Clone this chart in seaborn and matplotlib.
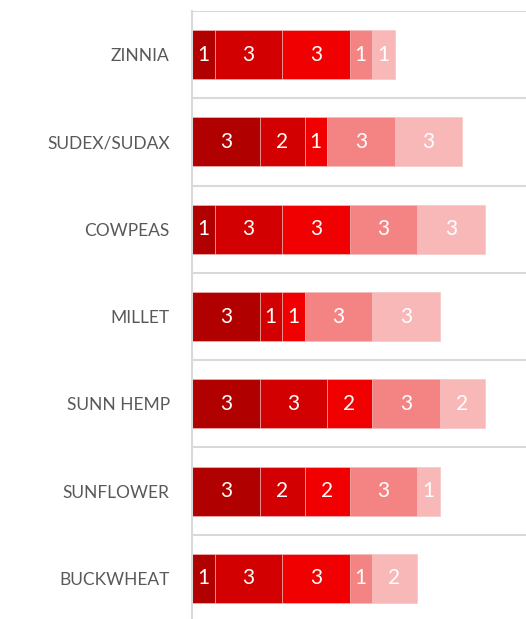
import matplotlib
matplotlib.use("Agg")
import matplotlib.pyplot as plt
import seaborn as sns
import pandas as pd
import numpy as np

categories = ["ZINNIA", "SUDEX/SUDAX", "COWPEAS", "MILLET", "SUNN HEMP", "SUNFLOWER", "BUCKWHEAT"]
seg1 = [1, 3, 1, 3, 3, 3, 1]
seg2 = [3, 2, 3, 1, 3, 2, 3]
seg3 = [3, 1, 3, 1, 2, 2, 3]
seg4 = [1, 3, 3, 3, 3, 3, 1]
seg5 = [1, 3, 3, 3, 2, 1, 2]
segments = [seg1, seg2, seg3, seg4, seg5]
colors = ["#B00000", "#D20000", "#F00000", "#F48484", "#F8B8B8"]

sns.set_theme(style="white")
plt.rcParams["font.family"] = ["Lato", "DejaVu Sans"]

fig = plt.figure(figsize=(5.26, 6.19), dpi=100)
ax = fig.add_axes([192 / 526, -3 / 619, 1 - 192 / 526, (619 - 11 + 3) / 619])

vals = np.array(segments)  # shape (5, 7)
cum = np.cumsum(vals, axis=0)

# draw cumulative totals from largest to smallest so segments stack
for k in range(len(segments) - 1, -1, -1):
    df = pd.DataFrame({"cat": categories, "val": cum[k]})
    sns.barplot(data=df, x="val", y="cat", orient="h", color=colors[k],
                saturation=1, width=0.56, edgecolor="#f4c8c8", linewidth=0.5,
                ax=ax)

for k in range(len(segments)):
    for i in range(len(categories)):
        left = cum[k][i] - vals[k][i]
        ax.text(left + vals[k][i] / 2, i, str(vals[k][i]), ha="center", va="center",
                color="white", fontsize=15)

ax.set_xlim(0, 334 / 22.5)
ax.set_ylim(6.5, -0.5)
ax.set_xlabel("")
ax.set_ylabel("")
ax.set_xticks([])
ax.set_yticks(range(len(categories)))
ax.set_yticklabels(categories, color="#595959", fontsize=12.5)
ax.tick_params(axis="y", length=0, pad=16)

for b in np.arange(-0.5, 7.0, 1.0):
    ax.axhline(b, color="#D9D9D9", lw=1.5, zorder=0)

for s in ["top", "right", "bottom"]:
    ax.spines[s].set_visible(False)
ax.spines["left"].set_color("#D9D9D9")
ax.spines["left"].set_linewidth(1.5)

fig.savefig("out.png", dpi=100)
